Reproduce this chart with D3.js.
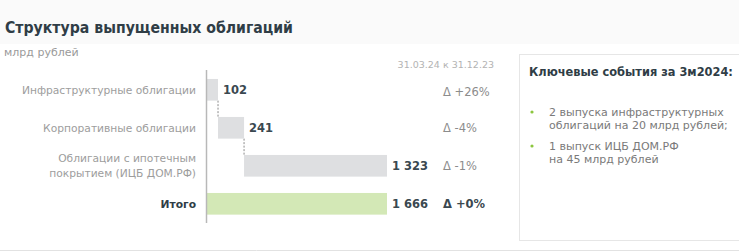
<!DOCTYPE html>
<html>
<head>
<meta charset="utf-8">
<script src="https://cdn.jsdelivr.net/npm/d3@7"></script>
<style>
  body { margin: 0; background: #fff; }
  svg { display: block; font-family: "DejaVu Sans", Verdana, sans-serif; }
</style>
</head>
<body>
<svg id="chart" width="739" height="252"></svg>
<script>
// data
const categories = ["Инфраструктурные облигации", "Корпоративные облигации", "Облигации с ипотечным\nпокрытием (ИЦБ ДОМ.РФ)", "Итого"];
const values = [102, 241, 1323, 1666];
const deltas = ["+26%", "-4%", "-1%", "+0%"];
const periodLabel = "31.03.24 к 31.12.23";
const eventsTitle = "Ключевые события за 3м2024:";
const events = [
  ["2 выпуска инфраструктурных", "облигаций на 20 млрд рублей;"],
  ["1 выпуск ИЦБ ДОМ.РФ", "на 45 млрд рублей"]
];

const svg = d3.select("#chart"),
      width = +svg.attr("width"),
      height = +svg.attr("height");

const fmt = d3.formatLocale({ decimal: ",", thousands: " ", grouping: [3], currency: ["", ""] }).format(",");

// header band
svg.append("rect").attr("x", 0).attr("y", 0).attr("width", width).attr("height", 44).attr("fill", "#fafafa");
svg.append("text")
   .attr("x", 5).attr("y", 33)
   .attr("font-size", "15px").attr("font-weight", "bold")
   .attr("fill", "#2f3d46")
   .attr("textLength", 288).attr("lengthAdjust", "spacingAndGlyphs")
   .text("Структура выпущенных облигаций");
svg.append("text")
   .attr("x", 4).attr("y", 56)
   .attr("font-size", "11px").attr("fill", "#9a9a9a")
   .text("млрд рублей");
svg.append("line")
   .attr("x1", 0).attr("x2", width).attr("y1", 250.5).attr("y2", 250.5)
   .attr("stroke", "#e2e2e2");

// waterfall
const x = d3.scaleLinear().domain([0, values[3]]).range([207, 387]);
const y = d3.scaleBand().domain(categories).range([70.8, 222.8]).paddingInner(0.43).paddingOuter(0.215);

const isTotal = i => i === categories.length - 1;
const starts = values.map((v, i) => isTotal(i) ? 0 : d3.sum(values.slice(0, i)));

const bars = categories.map((c, i) => ({ c, v: values[i], s: starts[i], i }));

// connectors
svg.selectAll("line.conn")
   .data(bars.slice(0, 2))
   .enter().append("line")
   .attr("class", "conn")
   .attr("x1", d => x(d.s + d.v)).attr("x2", d => x(d.s + d.v))
   .attr("y1", d => y(d.c) + y.bandwidth())
   .attr("y2", d => y(categories[d.i + 1]))
   .attr("stroke", "#8a8a8a").attr("stroke-dasharray", "2,1.5");

svg.selectAll("rect.bar")
   .data(bars)
   .enter().append("rect")
   .attr("class", "bar")
   .attr("x", d => x(d.s))
   .attr("y", d => y(d.c))
   .attr("width", d => x(d.s + d.v) - x(d.s))
   .attr("height", y.bandwidth())
   .attr("fill", d => isTotal(d.i) ? "#d3e8b6" : "#dedfe1");

// axis line
svg.append("line")
   .attr("x1", 206.5).attr("x2", 206.5).attr("y1", 70).attr("y2", 223)
   .attr("stroke", "#b8b8b8").attr("stroke-width", 1.5);

// category labels
svg.selectAll("text.cat")
   .data(bars)
   .enter().append("text")
   .attr("class", "cat")
   .attr("text-anchor", "end")
   .attr("font-size", "10.7px")
   .attr("font-weight", d => isTotal(d.i) ? "bold" : "normal")
   .attr("fill", d => isTotal(d.i) ? "#2f3d46" : "#9d9d9d")
   .each(function(d) {
     const lines = d.c.split("\n");
     const cy = y(d.c) + y.bandwidth() / 2;
     d3.select(this).selectAll("tspan")
       .data(lines)
       .enter().append("tspan")
       .attr("x", 196)
       .attr("y", (l, k) => cy + 4 + (k - (lines.length - 1) / 2) * 15)
       .text(l => l);
   });

// value labels
svg.selectAll("text.val")
   .data(bars)
   .enter().append("text")
   .attr("class", "val")
   .attr("x", d => x(d.s + d.v) + 5)
   .attr("y", d => y(d.c) + y.bandwidth() / 2 + 4)
   .attr("font-size", "11.5px").attr("font-weight", "bold")
   .attr("fill", "#3a4850")
   .text(d => fmt(d.v));

// deltas
svg.append("text")
   .attr("x", 494).attr("y", 68)
   .attr("text-anchor", "end")
   .attr("font-size", "9.5px").attr("fill", "#b3b3b3")
   .text(periodLabel);
svg.selectAll("text.delta")
   .data(bars)
   .enter().append("text")
   .attr("class", "delta")
   .attr("x", 443)
   .attr("y", d => y(d.c) + y.bandwidth() / 2 + (d.i === 0 ? 6 : 4))
   .attr("font-size", "11.5px")
   .attr("font-weight", d => isTotal(d.i) ? "bold" : "normal")
   .attr("fill", d => isTotal(d.i) ? "#3a4850" : "#8c8c8c")
   .text(d => "Δ " + deltas[d.i]);

// events box
const box = svg.append("g").attr("transform", "translate(519,54)");
box.append("rect")
   .attr("x", 0.5).attr("y", 0.5).attr("width", 240).attr("height", 186)
   .attr("fill", "#fff").attr("stroke", "#e6e6e6");
box.append("text")
   .attr("x", 10).attr("y", 22)
   .attr("font-size", "11.4px").attr("font-weight", "bold").attr("fill", "#2f3d46")
   .text(eventsTitle);
events.forEach((ev, i) => {
  const top = 62 + i * 34;
  box.append("circle").attr("cx", 13).attr("cy", top - 4).attr("r", 1.6).attr("fill", "#8cc63f");
  ev.forEach((line, k) => {
    box.append("text")
       .attr("x", 30).attr("y", top + k * 13)
       .attr("font-size", "11px").attr("fill", "#7a7a7a")
       .text(line);
  });
});
</script>
</body>
</html>
